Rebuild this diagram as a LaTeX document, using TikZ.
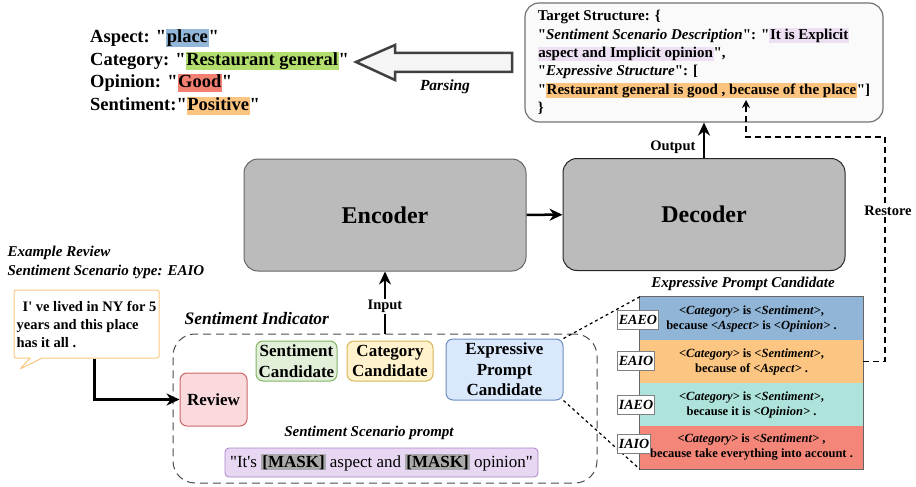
\documentclass[tikz,border=0pt]{standalone}
\usepackage{fontspec}
\setmainfont{Liberation Serif}[Ligatures=TeXOff]
\usetikzlibrary{arrows.meta,positioning,shapes.callouts,backgrounds}

\definecolor{boxgray}{RGB}{187,187,187}
\definecolor{hlblue}{RGB}{146,183,216}
\definecolor{hlgreen}{RGB}{178,222,110}
\definecolor{hlred}{RGB}{244,128,114}
\definecolor{hlorange}{RGB}{252,196,126}
\definecolor{hlpurple}{RGB}{237,224,243}
\definecolor{rowblue}{RGB}{144,181,215}
\definecolor{roworange}{RGB}{252,197,129}
\definecolor{rowteal}{RGB}{173,227,219}
\definecolor{rowred}{RGB}{243,134,120}
\definecolor{revfill}{RGB}{250,218,220}
\definecolor{revborder}{RGB}{204,102,102}
\definecolor{sentfill}{RGB}{226,240,217}
\definecolor{sentborder}{RGB}{130,179,102}
\definecolor{catfill}{RGB}{255,242,204}
\definecolor{catborder}{RGB}{214,182,86}
\definecolor{epcfill}{RGB}{218,232,252}
\definecolor{epcborder}{RGB}{108,142,191}
\definecolor{promptfill}{RGB}{232,215,242}
\definecolor{promptborder}{RGB}{170,130,200}
\definecolor{maskgray}{RGB}{170,170,170}
\definecolor{bubbleborder}{RGB}{250,200,130}

\newcommand{\setfs}[2]{\fontsize{#1}{#2}\selectfont}
\newcommand{\hlt}[3][0.6pt]{{\setlength{\fboxsep}{#1}\colorbox{#2}{#3}}}
\newcommand{\maskword}[1]{\hlt[1pt]{maskgray}{\textbf{#1}}}

\begin{document}
\begin{tikzpicture}[x=1pt, y=-1pt, >=Stealth,
    flow/.style={-{Stealth[length=13pt,width=12pt]}, line width=2.5pt},
    coder/.style={draw=black!60, fill=boxgray, rounded corners=14pt, line width=1pt,
      minimum width=282pt, minimum height=112pt, font=\bfseries\setfs{24}{28}},
    cand/.style={rounded corners=7pt, line width=1pt, align=center, inner sep=0.5pt,
      font=\bfseries\setfs{17}{20.5}},
    row/.style={minimum width=223pt, minimum height=43pt, inner sep=0pt, align=center,
      font=\bfseries\setfs{12.5}{15}},
    tagbox/.style={draw=gray, fill=white, line width=0.8pt, inner sep=1.5pt,
      minimum height=19pt, anchor=west, font=\bfseries\itshape\setfs{14}{16}},
    lbl/.style={font=\bfseries\setfs{14.5}{17}},
    ilbl/.style={font=\bfseries\itshape\setfs{15}{19}, align=left}]
  \useasboundingbox (0,0) rectangle (916,487);

  % Parsed result
  \node[anchor=west, align=left, inner sep=0pt, font=\bfseries\setfs{18.5}{22.5}] (result) at (90,72)
    {Aspect: "\hlt{hlblue}{\vphantom{Pgy}place}"\\
     Category: "\hlt{hlgreen}{\vphantom{Pgy}Restaurant general}"\\
     Opinion: "\hlt{hlred}{\vphantom{Pgy}Good}"\\
     Sentiment:"\hlt{hlorange}{\vphantom{Pgy}Positive}"};

  % Parsing arrow
  \draw[line width=2.5pt, draw=black!75, fill=black!4]
    (512,53) -- (395,53) -- (395,45) -- (356,62) -- (395,80) -- (395,72) -- (512,72) -- cycle;
  \node[font=\bfseries\itshape\setfs{15.5}{18}] (parselbl) at (445,87) {Parsing};

  % Target structure
  \node[draw=black!55, fill=black!2, rounded corners=14pt, line width=1.2pt,
    minimum width=358pt, minimum height=119pt, align=left,
    font=\bfseries\setfs{15}{18.3}] (target) at (704,62.5)
    {Target Structure: \{\\
     "\textit{Sentiment Scenario Description}": "\hlt{hlpurple}{It is Explicit}\\
     \hlt{hlpurple}{aspect and Implicit opinion}",\\
     "\textit{Expressive Structure}": [\\
     "\hlt{hlorange}{Restaurant general is good , because of the place}"]\\
     \}};
  \coordinate (restend) at (746,100);

  % Encoder and decoder
  \node[coder] (encoder) at (385,215) {Encoder};
  \node[coder, draw=black!85] (decoder) at (704,214.5) {Decoder};
  \draw[flow] (encoder) -- (decoder);
  \draw[flow] (decoder.north) -- node[left=4pt, pos=0.3, lbl] (outputlbl) {Output} (target.south);

  % Example review
  \node[ilbl, anchor=west] (examplelbl) at (4,262.5)
    {Example Review\\Sentiment Scenario type: EAIO};
  \node[draw=bubbleborder, fill=white, line width=1pt, rectangle callout, rounded corners=2pt,
    callout absolute pointer={(20,369)}, callout pointer width=12pt,
    minimum width=145pt, minimum height=68pt, inner sep=1pt, align=left,
    font=\bfseries\setfs{14.5}{18}] (bubble) at (86.5,324)
    {\hspace{6pt}I' ve lived in NY for 5\\
     years and this place\\
     has it all .};

  % Sentiment indicator
  \node[draw=black!70, dash pattern=on 8pt off 5pt, rounded corners=22pt, line width=1pt,
    minimum width=424pt, minimum height=149pt] (indicator) at (385,408.5) {};
  \node[ilbl, font=\bfseries\itshape\setfs{17.5}{20}, anchor=west] (indicatorlbl) at (181,319)
    {Sentiment Indicator};
  \node[cand, draw=revborder, fill=revfill, minimum width=67pt, minimum height=53pt] (review)
    at (213.5,399.5) {Review};
  \node[cand, draw=sentborder, fill=sentfill, minimum width=81pt, minimum height=40pt] (sentcand)
    at (296.5,361) {Sentiment\\Candidate};
  \node[cand, draw=catborder, fill=catfill, minimum width=86pt, minimum height=40pt] (catcand)
    at (390,361) {Category\\Candidate};
  \node[cand, draw=epcborder, fill=epcfill, minimum width=117pt, minimum height=61pt] (epc)
    at (504.5,369.5) {Expressive\\Prompt\\Candidate};
  \node[ilbl, font=\bfseries\itshape\setfs{15}{18}] (promptlbl) at (369,433)
    {Sentiment Scenario prompt};
  \node[draw=promptborder, fill=promptfill, rounded corners=4pt, line width=0.8pt,
    minimum width=313pt, minimum height=29pt, inner sep=1pt, font=\setfs{17}{20}] (prompt)
    at (381.5,462.5) {"It's \maskword{[MASK]} aspect and \maskword{[MASK]} opinion"};
  \draw[flow] ([xshift=8pt]bubble.south) |- (review.west);
  \draw[flow] (indicator.north) -- node[pos=0.44, fill=white, inner sep=1pt, lbl] (inputlbl)
    {Input} (encoder.south);

  % Expressive prompt candidates
  \node[font=\bfseries\itshape\setfs{15}{18}] (epctitle) at (743,284) {Expressive Prompt Candidate};
  \foreach \tag/\col/\yy/\txt in {
      EAEO/rowblue/318.5/{\textit{<Category>} is \textit{<Sentiment>},\\because \textit{<Aspect>} is \textit{<Opinion>} .},
      EAIO/roworange/361.5/{\textit{<Category>} is \textit{<Sentiment>},\\because of \textit{<Aspect>} .},
      IAEO/rowteal/404.5/{\textit{<Category>} is \textit{<Sentiment>},\\because it is \textit{<Opinion>} .},
      IAIO/rowred/447.5/{\textit{<Category>} is \textit{<Sentiment>} ,\\because take everything into account .}}
    \node[row, fill=\col] (\tag) at (751.5,\yy) {\txt};
  \draw[black!60, line width=0.8pt] (EAEO.north west) rectangle (IAIO.south east);
  \draw[dashed, line width=1.2pt] (epc.north east) -- (EAEO.north west);
  \draw[dashed, line width=1.2pt] (epc.south east) -- (IAIO.south west);
  \foreach \tag/\yy in {EAEO/320, EAIO/361, IAEO/405, IAIO/444}
    \node[tagbox] (t\tag) at (617,\yy) {\tag};

  % Restore path
  \coordinate (bend) at (885,137);
  \draw[dash pattern=on 6pt off 4pt, line width=1.5pt, -{Stealth[length=8pt,width=8pt]}]
    (EAIO.east) -| (bend) -| (restend);
  \node[fill=white, inner sep=1pt, lbl] (restorelbl) at (888,211) {Restore};
\end{tikzpicture}
\end{document}
